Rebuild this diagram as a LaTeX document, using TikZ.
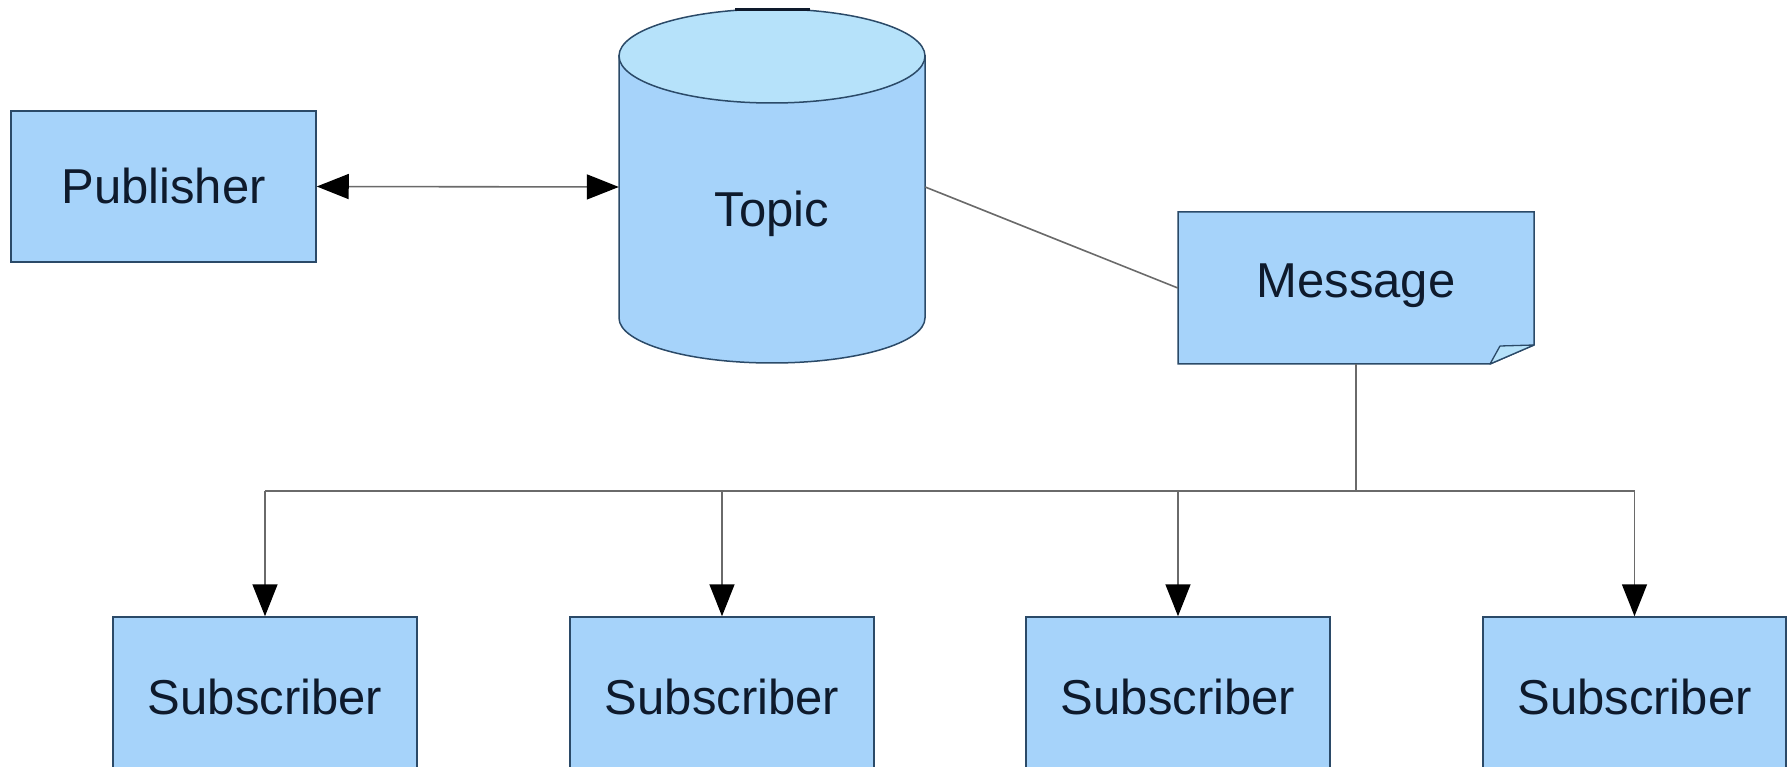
\documentclass[tikz,border=0pt]{standalone}
\usepackage{fontspec}
\setmainfont{Liberation Sans}
\usetikzlibrary{arrows.meta}
\definecolor{boxfill}{HTML}{A6D3FA}
\definecolor{topfill}{HTML}{B6E2FA}
\definecolor{edgecol}{HTML}{2B4A68}
\definecolor{conn}{HTML}{6A6A6A}
\definecolor{ink}{HTML}{0E1A2C}
\begin{document}
\begin{tikzpicture}[x=1pt,y=-1pt,
  lbl/.style={font=\fontsize{49}{58}\selectfont, text=ink, inner sep=0pt, text height=35pt, text depth=0pt},
  boxnode/.style={draw=edgecol, line width=1.5pt, fill=boxfill, rectangle, font=\fontsize{49}{58}\selectfont, text=ink, inner sep=0pt, text height=35pt, text depth=0pt},
  shapeline/.style={draw=edgecol, line width=1.5pt},
  connline/.style={draw=conn, line width=1.6pt},
  tip/.tip={Triangle[length=32pt,width=25pt,color=black]}
]
\useasboundingbox (0,0) rectangle (1789,767);
\fill[white] (0,0) rectangle (1789,767);
\clip (0,0) rectangle (1789,767);

% Topic cylinder
\draw[shapeline, fill=boxfill] (619,56) -- (619,318) arc[start angle=180, end angle=0, x radius=153, y radius=45] -- (925,56) -- cycle;
\draw[shapeline, fill=topfill] (772,56) ellipse [x radius=153, y radius=47];
\draw[ink, line width=3pt] (735,9.5) -- (810,9.5);
\node[minimum width=306pt, minimum height=352pt, inner sep=0pt] (topic) at (772,187) {};
\node[lbl] (topictxt) at (772,209) {Topic};

% Message note
\draw[shapeline, fill=boxfill] (1178,212) -- (1534,212) -- (1534,345) -- (1490,364) -- (1178,364) -- cycle;
\draw[draw=edgecol, line width=1.3pt, fill=topfill, line join=round] (1490,364) -- (1500,346) -- (1534,345) -- cycle;
\node[minimum width=356pt, minimum height=152pt, inner sep=0pt] (msg) at (1356,288) {};
\node[lbl] (msgtxt) at (1356,280) {Message};

% Publisher
\node[boxnode, minimum width=305pt, minimum height=151pt] (pub) at (163.5,186.5) {Publisher};

% Subscribers
\node[boxnode, minimum width=304pt, minimum height=160pt] (s1) at (265,697) {Subscriber};
\node[boxnode, minimum width=304pt, minimum height=160pt] (s2) at (722,697) {Subscriber};
\node[boxnode, minimum width=304pt, minimum height=160pt] (s3) at (1178,697) {Subscriber};
\node[boxnode, minimum width=303pt, minimum height=160pt] (s4) at (1634.5,697) {Subscriber};

% Connectors
\draw[connline, tip-tip] (pub.east) -- (topic.west);
\draw[connline] (topic.east) -- (msg.west);
\coordinate (j) at (1356,491);
\coordinate (hl) at (s1.north |- j);
\coordinate (hr) at (s4.north |- j);
\draw[connline] (msg.south) -- (j);
\draw[connline] (hl) -- (hr);
\foreach \s in {s1,s2,s3,s4}{
  \draw[connline, -tip] (\s.north |- j) -- (\s.north);
}
\end{tikzpicture}
\end{document}
